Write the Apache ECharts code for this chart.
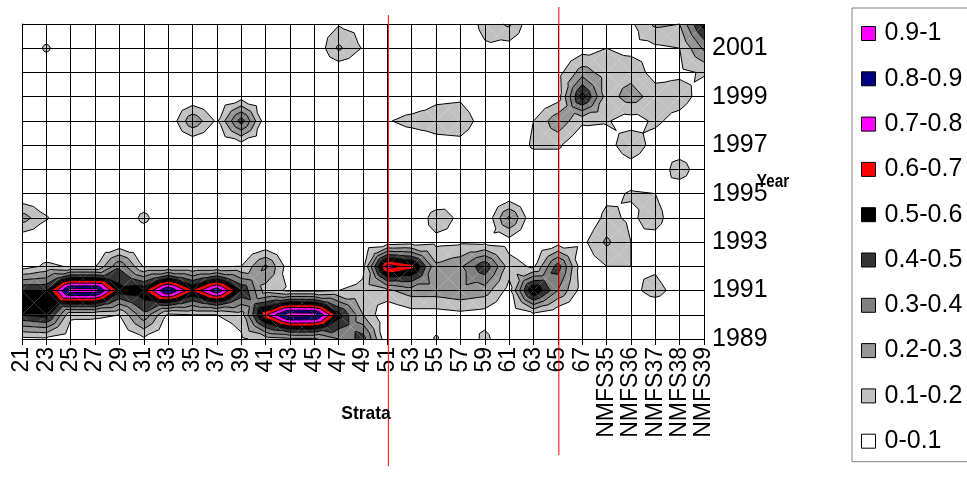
<!DOCTYPE html>
<html><head><meta charset="utf-8">
<script src="https://cdn.jsdelivr.net/npm/echarts@6/dist/echarts.min.js"></script>
<style>html,body{margin:0;padding:0;background:#fff}#c{width:967px;height:479px}</style>
</head><body><div id="c"></div>
<script>
// ---- categories / tick labels ----
const strata = ['21','23','25','27','29','31','33','35','37','39','41','43','45','47','49','51','53','55','57','59','61','63','65','67','NMFS35','NMFS36','NMFS37','NMFS38','NMFS39'];
const years = [1989,1990,1991,1992,1993,1994,1995,1996,1997,1998,1999,2000,2001,2002];
const bandLabels = ['0-0.1','0.1-0.2','0.2-0.3','0.3-0.4','0.4-0.5','0.5-0.6','0.6-0.7','0.7-0.8','0.8-0.9','0.9-1'];
const bandLevels = [0,0.1,0.2,0.3,0.4,0.5,0.6,0.7,0.8,0.9];
const refStrata = ['51','65'];

// ---- values per year (one value per stratum, order as strata) ----
//            21   23   25   27   29   31   33   35   37   39   41   43   45   47   49   51   53   55   57   59   61   63   65   67  N35  N36  N37  N38  N39
const y1989 = [0.07,0.08,0.03,0,   0,   0.08,0,   0,   0,   0.08,0.15,0.18,0.18,0.30,0.45,0,   0,   0.11,0,   0.13,0,   0,   0,   0,   0,   0,   0,   0,   0];
const y1990 = [0.50,0.55,0.12,0.12,0.10,0.37,0.08,0.10,0.10,0.15,0.68,0.97,0.96,0.54,0.20,0,   0.05,0.05,0.07,0.05,0,   0.07,0,   0,   0,   0,   0,   0,   0];
const y1991 = [0.50,0.50,0.97,0.97,0.55,0.58,0.92,0.62,0.88,0.50,0.15,0.08,0.08,0.10,0.12,0.18,0.25,0.25,0.28,0.25,0.06,0.62,0.30,0.05,0,   0.07,0.14,0.05,0];
const y1992 = [0.05,0.12,0.09,0.09,0.38,0.09,0.09,0.09,0.09,0.10,0.32,0.03,0,   0.03,0.08,0.75,0.65,0.22,0.28,0.48,0.15,0.08,0.45,0.03,0.10,0.10,0.08,0,   0];
const y1993 = [0,   0,   0,   0,   0,   0,   0,   0,   0,   0,   0,   0,   0,   0,   0,   0.03,0.05,0.07,0.08,0.07,0.05,0,   0.05,0.07,0.22,0.10,0.05,0,   0];
const y1994 = [0.25,0.11,0,   0,   0,   0.13,0,   0,   0,   0,   0,   0,   0,   0,   0,   0,   0,   0.15,0.08,0,   0.32,0,   0,   0,   0.13,0.08,0.15,0,   0];
const y1995 = [0,   0,   0,   0,   0,   0,   0,   0,   0,   0,   0,   0,   0,   0,   0,   0,   0,   0,   0.09,0,   0,   0,   0,   0,   0.07,0.11,0.10,0,   0];
const y1996 = [0,   0,   0,   0,   0,   0,   0,   0,   0,   0,   0,   0,   0,   0,   0,   0,   0,   0,   0,   0,   0,   0,   0,   0,   0,   0.04,0,   0.17,0];
const y1997 = [0,   0,   0,   0,   0,   0,   0,   0,   0,   0.05,0,   0,   0,   0,   0,   0,   0,   0.05,0.06,0,   0,   0.12,0.12,0,   0.05,0.18,0.05,0,   0];
const y1998 = [0,   0,   0,   0,   0,   0,   0,   0.28,0.08,0.45,0.03,0,   0,   0,   0,   0.09,0.14,0.16,0.17,0.04,0,   0.10,0.27,0.12,0.11,0.05,0.12,0.06,0];
const y1999 = [0,   0,   0,   0,   0,   0,   0,   0,   0,   0.05,0,   0,   0,   0,   0,   0,   0,   0.07,0.08,0,   0,   0,   0.05,0.55,0.15,0.25,0.15,0.15,0.05];
const y2000 = [0,   0,   0,   0,   0,   0,   0,   0,   0,   0,   0,   0,   0,   0,   0,   0,   0,   0,   0,   0,   0,   0,   0.06,0.25,0.15,0.16,0.06,0.08,0.11];
const y2001 = [0,   0.12,0,   0,   0,   0,   0,   0,   0,   0,   0,   0,   0,   0.22,0.09,0,   0,   0,   0,   0.08,0.05,0,   0,   0.05,0.10,0.07,0.08,0.10,0.32];
const y2002 = [0,   0,   0,   0,   0,   0,   0,   0,   0,   0,   0,   0,   0.03,0.09,0.06,0,   0,   0,   0,   0.14,0.22,0,   0,   0,   0,   0.08,0.22,0.20,0.55];
const rows = [y1989,y1990,y1991,y1992,y1993,y1994,y1995,y1996,y1997,y1998,y1999,y2000,y2001,y2002];

// ---- styles ----
const bandColors = ['#FFFFFF','#C0C0C0','#969696','#808080','#333333','#000000','#FF0000','#FF00FF','#000080','#FF00FF'];
const FONT = "'Liberation Sans', Arial, sans-serif";

// ---- contour geometry computed from the grid (data space: x = stratum index, y = year) ----
const nC = strata.length, nR = years.length;
function P(c, r) { return [c, years[r], rows[r][c]]; }
const tris = [];
for (let r = 0; r < nR - 1; r++) {
  for (let c = 0; c < nC - 1; c++) {
    const bl = P(c, r), br = P(c + 1, r), tr = P(c + 1, r + 1), tl = P(c, r + 1);
    const ctr = [c + 0.5, (years[r] + years[r + 1]) / 2, (bl[2] + br[2] + tr[2] + tl[2]) / 4];
    tris.push([bl, br, ctr], [br, tr, ctr], [tr, tl, ctr], [tl, bl, ctr]);
  }
}
function clip(poly, level, keepAbove) {
  const out = [];
  for (let i = 0; i < poly.length; i++) {
    const a = poly[i], b = poly[(i + 1) % poly.length];
    const ina = keepAbove ? a[2] >= level : a[2] <= level;
    const inb = keepAbove ? b[2] >= level : b[2] <= level;
    if (ina) out.push(a);
    if (ina !== inb) {
      const t = (level - a[2]) / (b[2] - a[2]);
      out.push([a[0] + t * (b[0] - a[0]), a[1] + t * (b[1] - a[1]), level]);
    }
  }
  return out;
}
const bandPolys = bandLevels.map(() => []);
for (let k = 1; k < bandLevels.length; k++) {
  const lo = bandLevels[k], hi = k + 1 < bandLevels.length ? bandLevels[k + 1] : Infinity;
  tris.forEach(t => {
    let p = clip(t, lo, true);
    if (p.length >= 3 && hi !== Infinity) p = clip(p, hi, false);
    if (p.length >= 3) bandPolys[k].push(p);
  });
}
const segs = [];
for (let k = 1; k < bandLevels.length; k++) {
  const L = bandLevels[k];
  tris.forEach(t => {
    const pts = [];
    for (let i = 0; i < 3; i++) {
      const a = t[i], b = t[(i + 1) % 3];
      if ((a[2] >= L) !== (b[2] >= L)) {
        const s = (L - a[2]) / (b[2] - a[2]);
        pts.push([a[0] + s * (b[0] - a[0]), a[1] + s * (b[1] - a[1])]);
      }
    }
    if (pts.length === 2) segs.push([pts[0][0], pts[0][1], pts[1][0], pts[1][1]]);
  });
}

const series = [];
for (let k = bandLevels.length - 1; k >= 0; k--) {
  const polys = bandPolys[k];
  series.push({
    type: 'custom', name: bandLabels[k], z: 2, silent: true,
    itemStyle: { color: bandColors[k] },
    encode: { x: 0, y: 1 },
    data: polys.map(p => [p[0][0], p[0][1]]),
    renderItem: (params, api) => {
      const poly = polys[params.dataIndex];
      return { type: 'polygon', shape: { points: poly.map(q => api.coord([q[0], q[1]])) },
               style: { fill: bandColors[k], stroke: null } };
    }
  });
}
series.push({
  type: 'custom', name: 'isolines', z: 3, silent: true,
  encode: { x: [0, 2], y: [1, 3] },
  data: segs,
  renderItem: (params, api) => {
    const a = api.coord([api.value(0), api.value(1)]), b = api.coord([api.value(2), api.value(3)]);
    return { type: 'line', shape: { x1: a[0], y1: a[1], x2: b[0], y2: b[1] },
             style: { stroke: '#000', lineWidth: 1 } };
  }
});
const redExt = [[-9, 127], [-17, 116]];
series.push({
  type: 'custom', name: 'ref', z: 6, silent: true,
  encode: { x: 0, y: 1 },
  data: refStrata.map(s => [strata.indexOf(s), years[0]]),
  renderItem: (params, api) => {
    const bottom = api.coord([api.value(0), years[0]]);
    const top = api.coord([api.value(0), years[years.length - 1]]);
    const e = redExt[params.dataIndex];
    return { type: 'line', shape: { x1: bottom[0] + 1, y1: top[1] + e[0], x2: bottom[0] + 1, y2: bottom[1] + e[1] },
             style: { stroke: '#FF0000', lineWidth: 1 } };
  }
});

const chart = echarts.init(document.getElementById('c'), null, { renderer: 'canvas' });
chart.setOption({
  animation: false,
  backgroundColor: '#fff',
  grid: { left: 22, top: 24, width: 682, height: 315, containLabel: false },
  xAxis: {
    type: 'value', min: 0, max: nC - 1, interval: 1, z: 4,
    axisLine: { lineStyle: { color: '#000', width: 1 } },
    axisTick: { show: true, length: 6, lineStyle: { color: '#000' } },
    axisLabel: { rotate: 90, margin: 8, fontSize: 23, fontFamily: FONT, color: '#000',
                 formatter: v => strata[v] || '' },
    splitLine: { show: true, lineStyle: { color: '#000', width: 1 } }
  },
  yAxis: {
    type: 'value', position: 'right', min: years[0], max: years[years.length - 1], interval: 1, z: 4,
    axisLine: { show: true, lineStyle: { color: '#000', width: 1 } },
    axisTick: { show: true, length: 6, lineStyle: { color: '#000' } },
    axisLabel: { margin: 8, fontSize: 25, fontFamily: FONT, color: '#000',
                 formatter: v => (v % 2 === 1 ? String(v) : '') },
    splitLine: { show: true, lineStyle: { color: '#000', width: 1 } }
  },
  graphic: [{
    type: 'text', x: 773, y: 182, scaleX: 0.85, z: 10,
    style: { text: 'Year', font: 'bold 18px ' + FONT, fill: '#000', align: 'center', verticalAlign: 'middle' }
  }, {
    type: 'text', x: 366, y: 414, scaleX: 0.92, z: 10,
    style: { text: 'Strata', font: 'bold 19px ' + FONT, fill: '#000', align: 'center', verticalAlign: 'middle' }
  }],
  legend: {
    orient: 'vertical', left: 852, top: 8,
    padding: [13, 60, 8, 9],
    itemWidth: 14, itemHeight: 14, itemGap: 20.3,
    borderColor: '#808080', borderWidth: 1, backgroundColor: '#fff',
    selectedMode: false, icon: 'rect',
    textStyle: { fontSize: 25, lineHeight: 25, fontFamily: FONT, color: '#000', padding: [0, 0, 0, 4] },
    data: bandLabels.slice().reverse().map((n, i) => ({
      name: n, icon: 'rect',
      itemStyle: { color: bandColors[bandColors.length - 1 - i], borderColor: '#000', borderWidth: 1 }
    }))
  },
  series: series
});
</script></body></html>
